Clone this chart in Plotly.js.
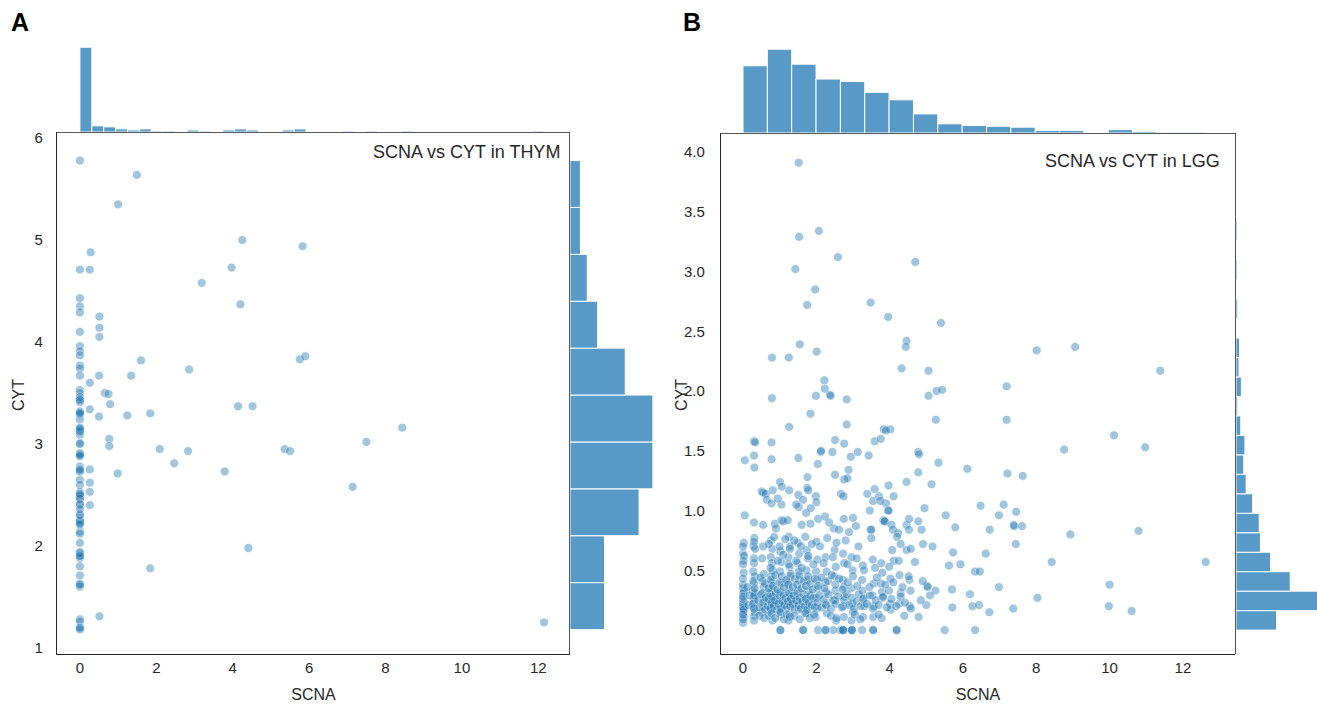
<!DOCTYPE html>
<html><head><meta charset="utf-8">
<script src="https://cdn.plot.ly/plotly-3.0.1.min.js"></script>
<style>html,body{margin:0;padding:0;background:#fff}#chart{width:1317px;height:706px}</style>
</head><body><div id="chart"></div>
<script>
// ---- Panel A: THYM  [SCNA, CYT] ----
const thymPoints = [
 [0,5.78],[0,4.71],[0,4.43],[0,4.35],[0,4.29],[0,4.10],[0,3.96],[0,3.91],[0,3.87],[0,3.77],[0,3.74],[0,3.67],
 [0,3.53],[0,3.50],[0,3.44],[0,3.41],[0,3.32],[0,3.29],[0,3.24],[0,3.15],[0,3.13],[0,3.09],[0,3.01],[0,2.91],
 [0,2.89],[0,2.78],[0,2.74],[0,2.65],[0,2.60],[0,2.53],[0,2.50],[0,2.47],[0,2.40],[0,2.31],[0,2.24],[0,2.22],
 [0,2.14],[0,2.03],[0,1.94],[0,1.91],[0,1.88],[0,1.80],[0,1.71],[0,1.63],[0,1.60],[0,1.28],[0,1.26],[0,1.19],[0,1.18],
 [0,1.20],[0,1.62],[0,1.93],[0,1.90],[0,2.49],[0,2.46],[0,2.51],[0,2.23],[0,2.25],[0,2.21],[0,2.12],[0,2.30],
 [0,2.41],[0,2.36],[0,2.90],[0,2.88],[0,2.73],[0,2.75],[0,3.00],[0,3.46],[0,3.43],[0,3.31],[0,3.30],[0,3.14],[0,3.12],[0,3.16],
 [1.49,5.64],[1.0,5.35],[4.25,5.0],[5.83,4.94],[0.28,4.88],[0.26,4.71],[3.97,4.73],[3.19,4.58],[4.2,4.37],
 [0.51,4.25],[0.51,4.14],[0.51,4.05],[0.5,3.67],[0.26,3.60],[1.34,3.67],[1.6,3.82],[2.86,3.73],[5.76,3.83],[5.9,3.86],
 [0.65,3.50],[0.75,3.49],[0.26,3.34],[0.5,3.27],[0.79,3.39],[1.24,3.28],[1.84,3.30],[4.14,3.37],[4.52,3.37],
 [0.77,3.05],[0.77,2.98],[2.09,2.95],[2.83,2.93],[2.47,2.81],[5.36,2.95],[5.5,2.93],[0.26,2.75],[0.99,2.71],[3.79,2.73],
 [0.26,2.62],[0.26,2.53],[0.26,2.40],[4.41,1.98],[1.84,1.78],[7.5,3.02],[8.44,3.16],[7.14,2.58],[12.15,1.25],[0.51,1.31]
];
// ---- Panel B: LGG  [SCNA, CYT] ----
const lggSparse = [
 [1.52,3.91],[2.07,3.34],[1.53,3.29],[2.59,3.12],[4.70,3.08],[1.43,3.02],[1.97,2.85],[1.75,2.72],[3.48,2.74],[3.96,2.62],
 [5.40,2.57],[4.46,2.42],[4.44,2.37],[1.55,2.39],[2.01,2.33],[0.79,2.28],[1.25,2.28],[4.33,2.19],[5.06,2.17],[2.22,2.09],
 [2.23,2.02],[5.28,2.00],[5.43,2.01],[2.37,1.97],[2.39,1.96],[1.99,1.96],[0.79,1.94],[2.83,1.93],[5.06,1.96],
 [8.01,2.34],[9.06,2.37],[11.38,2.17],[7.19,2.04],
 [7.19,1.76],[10.12,1.63],[10.97,1.53],[8.76,1.51],[7.21,1.31],[7.63,1.29],[7.11,1.05],[7.45,0.99],[7.38,0.88],[7.40,0.87],
 [7.61,0.87],[7.44,0.72],[8.93,0.80],[10.79,0.83],[8.42,0.57],[12.62,0.57],[10.0,0.38],[8.03,0.27],[7.37,0.18],[9.98,0.20],[10.6,0.16]
];
const lggMid = [
 [1.84,1.81],[5.26,1.76],[1.26,1.70],[2.83,1.72],[3.84,1.68],[4.02,1.68],[3.90,1.67],[0.30,1.58],[0.33,1.57],[0.78,1.57],
 [2.51,1.59],[2.76,1.56],[3.59,1.58],[3.76,1.60],[0.05,1.42],[0.30,1.46],[0.31,1.36],[0.78,1.43],[1.51,1.44],[2.04,1.39],
 [2.12,1.49],[2.13,1.50],[2.44,1.49],[2.94,1.45],[3.13,1.49],[3.43,1.46],[4.78,1.49],[4.80,1.47],[5.33,1.40],[2.88,1.34],
 [2.51,1.30],[2.76,1.26],[2.85,1.27],[1.76,1.28],[4.78,1.32],[3.97,1.21],[4.46,1.24],[5.14,1.22],[6.12,1.35],[1.01,1.24],
 [1.06,1.20],[0.51,1.16],[0.55,1.15],[0.62,1.14],[0.81,1.17],[0.65,1.09],[0.78,1.06],[1.26,1.17],[1.51,1.13],[1.64,1.09],
 [1.75,1.19],[1.78,1.17],[1.99,1.12],[2.0,1.07],[1.05,1.05],[1.52,1.03],[1.72,0.98],[0.05,0.96],[0.55,0.88],[0.87,0.89],
 [1.05,0.92],[1.10,0.91],[1.84,0.89],[2.05,0.93],[2.24,0.95],[2.75,0.93],[3.08,0.87],[2.48,0.85],[2.62,0.84],[2.89,0.82],
 [2.67,1.14],[2.74,1.12],[3.48,0.84],[3.50,0.84],[3.39,1.14],[3.55,1.08],[3.46,1.00],[3.59,1.18],[3.71,1.12],[3.90,1.06],
 [3.96,1.00],[3.97,1.00],[3.83,0.92],[3.87,0.91],[3.86,0.91],[4.05,0.88],[4.09,0.84],[4.23,0.81],[4.11,1.12],[4.46,0.88],
 [4.53,0.93],[4.53,0.84],[4.78,0.91],[4.87,0.84],[4.20,0.78],[4.46,0.67],[4.58,0.68],[4.69,0.57],[4.07,0.67],[4.11,0.58],
 [4.91,0.72],[5.17,0.70],[5.53,0.96],[5.79,0.86],[6.48,1.04],[6.73,0.84],[6.98,0.96],[5.73,0.65],[5.62,0.54],[5.93,0.55],
 [6.62,0.64],[6.33,0.49],[6.46,0.49],[6.98,0.36],[6.19,0.30],[5.70,0.34],[5.25,0.33],[5.02,0.37],[5.04,0.36],[6.26,0.20],
 [6.44,0.21],[6.72,0.15],[5.71,0.19],[5.0,0.21],[4.79,0.11],[5.50,0.0],[6.33,0.0],[4.19,0.0],[3.55,0.0],[3.25,0.0],
 [2.96,0.0],[2.97,0.0],[2.73,0.0],[2.74,0.0],[2.66,0.0],[2.46,0.0],[2.25,0.0],[2.05,0.0],[1.64,0.0],[1.02,0.0]
];
const lggDense = [
 [0.02,0.73],[0.0,0.64],[0.03,0.62],[0.01,0.58],[0.02,0.48],[0.0,0.35],[0.03,0.33],[0.01,0.31],[0.02,0.24],[0.0,0.20],[0.03,0.19],[0.01,0.15],[0.02,0.11],[0.0,0.06],
 [0.31,0.77],[0.29,0.70],[0.33,0.68],[0.30,0.56],[0.28,0.49],[0.32,0.45],[0.30,0.39],[0.27,0.33],[0.33,0.31],[0.29,0.27],[0.31,0.24],[0.28,0.19],[0.32,0.15],[0.30,0.12],
 [0.55,0.70],[0.52,0.60],[0.57,0.47],[0.54,0.41],[0.56,0.36],[0.53,0.31],[0.58,0.26],[0.55,0.20],[0.52,0.15],
 [0.77,0.75],[0.80,0.68],[0.76,0.61],[0.79,0.56],[0.81,0.50],[0.77,0.45],[0.80,0.40],[0.78,0.35],[0.76,0.29],[0.82,0.25],[0.79,0.21],[0.77,0.17],[0.80,0.08],
 [1.02,0.66],[1.05,0.57],[1.01,0.49],[1.06,0.39],[1.03,0.32],[1.00,0.25],[1.04,0.20],[1.02,0.13],
 [1.25,0.78],[1.28,0.70],[1.24,0.61],[1.27,0.53],[1.29,0.45],[1.23,0.40],[1.26,0.33],[1.28,0.28],[1.25,0.22],[1.27,0.14],[1.24,0.08],
 [1.50,0.73],[1.53,0.64],[1.49,0.56],[1.52,0.49],[1.54,0.42],[1.50,0.33],[1.48,0.24],[1.52,0.17],
 [1.74,0.67],[1.77,0.60],[1.73,0.50],[1.76,0.42],[1.78,0.33],[1.74,0.27],[1.76,0.20],[1.73,0.14],
 [2.00,0.74],[2.03,0.59],[1.99,0.49],[2.02,0.42],[2.04,0.35],[2.00,0.27],[2.02,0.18],[1.98,0.11],
 [2.25,0.61],[2.28,0.49],[2.24,0.40],[2.27,0.32],[2.25,0.22],[2.29,0.14],
 [2.50,0.67],[2.53,0.53],[2.49,0.45],[2.52,0.33],[2.50,0.25],[2.54,0.08],
 [2.73,0.64],[2.76,0.56],[2.72,0.42],[2.75,0.36],[2.77,0.28],[2.73,0.20],[2.75,0.11],
 [2.96,0.61],[2.99,0.50],[2.95,0.35],[2.98,0.22],[3.00,0.15],[2.96,0.08],
 [3.27,0.54],[3.30,0.50],[3.26,0.33],[3.29,0.27],[3.31,0.20],[3.27,0.11],
 [3.54,0.59],[3.57,0.39],[3.53,0.29],[3.56,0.20],[3.55,0.11],
 [3.77,0.56],[3.80,0.48],[3.76,0.39],[3.79,0.32],[3.81,0.27],[3.78,0.10],
 [3.99,0.53],[4.02,0.43],[3.98,0.33],[4.01,0.22],[4.03,0.17],
 [4.27,0.46],[4.30,0.31],[4.26,0.22],[4.54,0.42],[4.57,0.33],[4.55,0.20]
];
// overlapping points hidden inside the dark core of the LGG cloud
const lggCore = [
 [0.0,0.18],[0.0,0.22],[0.0,0.26],[0.0,0.28],[0.02,0.17],[0.15,0.21],[0.18,0.29],[0.28,0.22],[0.30,0.18],[0.31,0.29],[0.42,0.25],[0.45,0.19],[0.50,0.30],[0.55,0.23],[0.60,0.17],[0.62,0.27],
 [0.68,0.20],[0.70,0.26],[0.72,0.31],[0.75,0.18],[0.78,0.23],[0.80,0.28],[0.84,0.20],[0.88,0.25],[0.90,0.31],[0.93,0.17],[0.97,0.22],[1.00,0.29],[1.04,0.18],[1.08,0.24],[1.10,0.30],[1.13,0.21],[1.17,0.27],[1.20,0.19],[1.23,0.24],[1.26,0.31],[1.29,0.20],[1.31,0.26],
 [1.35,0.22],[1.38,0.29],[1.41,0.18],[1.45,0.25],[1.48,0.31],[1.52,0.21],[1.55,0.27],[1.58,0.18],[1.62,0.24],[1.65,0.30],[1.69,0.20],[1.72,0.26],[1.76,0.17],[1.80,0.23],[1.84,0.29],[1.88,0.21],[1.92,0.27],[1.96,0.19],
 [2.03,0.23],[2.08,0.29],[2.14,0.19],[2.20,0.26],[2.27,0.21],[2.33,0.30],[2.40,0.18],[2.46,0.25],[2.53,0.22],[2.60,0.28],
 [2.70,0.19],[2.76,0.25],[2.83,0.30],[2.90,0.21],[2.97,0.27],[3.03,0.18],[3.10,0.24],[3.16,0.30],[3.22,0.20],[3.28,0.26],
 [3.38,0.22],[3.46,0.29],[3.55,0.18],[3.62,0.25],[3.70,0.21],[3.82,0.28],[3.92,0.19],
 [4.05,0.26],[4.18,0.20],[4.30,0.28],[4.42,0.23],[4.58,0.18],[4.85,0.25],[5.10,0.29],
 [0.0,0.38],[0.0,0.43],[0.12,0.36],[0.28,0.41],[0.32,0.35],[0.48,0.44],[0.60,0.39],
 [0.70,0.35],[0.76,0.42],[0.82,0.37],[0.88,0.46],[0.94,0.34],[1.00,0.40],[1.06,0.45],[1.12,0.36],[1.18,0.42],[1.24,0.38],[1.30,0.47],
 [1.36,0.36],[1.42,0.43],[1.48,0.38],[1.54,0.46],[1.60,0.35],[1.66,0.41],[1.72,0.37],[1.78,0.45],[1.84,0.39],[1.90,0.34],[1.96,0.43],
 [2.05,0.37],[2.14,0.44],[2.22,0.35],[2.32,0.41],[2.42,0.46],[2.52,0.38],[2.62,0.43],
 [2.72,0.34],[2.86,0.40],[3.00,0.45],[3.12,0.37],[3.25,0.42],[3.45,0.36],[3.65,0.44],[3.88,0.38],
 [4.10,0.40],[4.35,0.36],[4.52,0.45],[4.90,0.41],
 [0.0,0.09],[0.0,0.13],[0.30,0.08],[0.45,0.12],[0.58,0.10],
 [0.70,0.12],[0.78,0.14],[0.88,0.10],[1.02,0.0],[1.02,0.15],[1.12,0.09],[1.20,0.13],[1.28,0.11],
 [1.40,0.12],[1.55,0.09],[1.64,0.0],[1.70,0.14],[1.82,0.10],[1.94,0.13],
 [2.25,0.0],[2.40,0.12],[2.55,0.10],[2.73,0.0],[2.97,0.0],[3.05,0.13],[3.20,0.09],[3.55,0.0],[3.70,0.13],[4.19,0.0],[4.40,0.12],
 [0.0,0.55],[0.30,0.60],[0.75,0.52],[0.95,0.58],[1.10,0.63],[1.25,0.55],[1.45,0.58],[1.60,0.52],[1.78,0.62],[1.92,0.55],
 [2.20,0.56],[2.45,0.61],[2.85,0.55],[3.10,0.60],[3.60,0.52],[4.25,0.58],
 [0.0,0.70],[0.30,0.74],[0.70,0.72],[0.85,0.78],[1.00,0.70],[1.15,0.76],[1.28,0.68],[1.40,0.75],[1.58,0.70],[1.70,0.78],[1.88,0.72],
 [2.10,0.70],[2.30,0.77],[2.55,0.73],[2.80,0.75],[3.15,0.70],[3.50,0.77],[4.30,0.72],
 [0.30,0.90],[0.90,0.85],[1.22,0.92],[1.60,0.88],[2.35,0.90],[3.00,0.94],
 [0.95,1.10],[1.45,1.05],[1.85,1.02],[3.75,1.08],[4.95,1.02]
];
const xTicks = [0,2,4,6,8,10,12];
const thymYTicks = [1,2,3,4,5,6];
const lggYTicks = [0,0.5,1,1.5,2,2.5,3,3.5,4];
const thymBins = {x:39, y:10};
const lggBins = {x:19, y:24};

const thymSCNA = thymPoints.map(p=>p[0]), thymCYT = thymPoints.map(p=>p[1]);
const lggAll = lggSparse.concat(lggMid, lggDense, lggCore);
const lggSCNA = lggAll.map(p=>p[0]), lggCYT = lggAll.map(p=>p[1]);

const W=1317, H=706;
const dx=(a,b)=>[a/W,Math.min(1,b/W)];
const dy=(t,b)=>[1-b/H,1-t/H];
function binSpec(arr,n){const lo=Math.min(...arr),hi=Math.max(...arr);const size=(hi-lo)/n*(1+1e-9);return {start:lo,end:lo+size*n,size:size};}
function maxCount(arr,spec){const c={};let m=0;arr.forEach(v=>{const k=Math.floor((v-spec.start)/spec.size);c[k]=(c[k]||0)+1;if(c[k]>m)m=c[k];});return m;}

const ink='#262626', spine='#555', barCol='#5799c7';
const fam='Liberation Sans, Arial, sans-serif';
const font={family:fam,size:15,color:ink};
const scatMarker={size:9,color:'#1f77b4',opacity:0.42,line:{color:'#ffffff',width:0.8}};
const histMarker={color:barCol,line:{color:'#ffffff',width:1}};

const tAx=binSpec(thymSCNA,thymBins.x), tAy=binSpec(thymCYT,thymBins.y);
const tBx=binSpec(lggSCNA,lggBins.x), tBy=binSpec(lggCYT,lggBins.y);

const traces=[
 {type:'scatter',mode:'markers',x:thymSCNA,y:thymCYT,xaxis:'x',yaxis:'y',marker:scatMarker,hoverinfo:'x+y'},
 {type:'histogram',x:thymSCNA,xbins:tAx,xaxis:'x2',yaxis:'y2',marker:histMarker},
 {type:'histogram',y:thymCYT,ybins:tAy,xaxis:'x3',yaxis:'y3',marker:histMarker,orientation:'h'},
 {type:'scatter',mode:'markers',x:lggSCNA,y:lggCYT,xaxis:'x4',yaxis:'y4',marker:scatMarker,hoverinfo:'x+y'},
 {type:'histogram',x:lggSCNA,xbins:tBx,xaxis:'x5',yaxis:'y5',marker:histMarker},
 {type:'histogram',y:lggCYT,ybins:tBy,xaxis:'x6',yaxis:'y6',marker:histMarker,orientation:'h'}
];

const base={showgrid:false,zeroline:false,showline:true,linecolor:ink,linewidth:1.25,ticks:'outside',tickcolor:'rgba(0,0,0,0)',tickfont:font,fixedrange:true};
const hid={visible:false,showgrid:false,zeroline:false,fixedrange:true};
const marg={showgrid:false,zeroline:false,showline:true,linecolor:spine,linewidth:1.25,showticklabels:false,ticks:'',fixedrange:true};
const titleFont={family:fam,size:16,color:ink};

const layout={
 width:W,height:H,margin:{l:0,r:0,t:0,b:0},paper_bgcolor:'#fff',plot_bgcolor:'rgba(0,0,0,0)',
 showlegend:false,bargap:0,font:font,
 xaxis:Object.assign({},base,{domain:dx(57,570),range:[-0.6,12.83],anchor:'y',tickvals:xTicks,ticklen:0,
   title:{text:'SCNA',font:titleFont,standoff:13}}),
 yaxis:Object.assign({},base,{domain:dy(132,654),range:[0.94,6.06],anchor:'x',tickvals:thymYTicks,ticklen:10}),
 xaxis2:Object.assign({},marg,{domain:dx(57,570),matches:'x',anchor:'y2'}),
 yaxis2:Object.assign({},hid,{domain:dy(43,132),range:[0,maxCount(thymSCNA,tAx)*1.05],anchor:'x2'}),
 xaxis3:Object.assign({},hid,{domain:dx(570,657),range:[0,maxCount(thymCYT,tAy)*1.05],anchor:'y3'}),
 yaxis3:Object.assign({},marg,{domain:dy(132,654),matches:'y',anchor:'x3'}),
 xaxis4:Object.assign({},base,{domain:dx(721,1235),range:[-0.6,13.42],anchor:'y4',tickvals:xTicks,ticklen:0,
   title:{text:'SCNA',font:titleFont,standoff:13}}),
 yaxis4:Object.assign({},base,{domain:dy(133,654),range:[-0.2,4.159],anchor:'x4',tickvals:lggYTicks,tickformat:'.1f',ticklen:12}),
 xaxis5:Object.assign({},marg,{domain:dx(721,1235),matches:'x4',anchor:'y5'}),
 yaxis5:Object.assign({},hid,{domain:dy(45,133),range:[0,maxCount(lggSCNA,tBx)*1.05],anchor:'x5'}),
 xaxis6:Object.assign({},hid,{domain:dx(1236,1317),range:[0,maxCount(lggCYT,tBy)*81/84],anchor:'y6'}),
 yaxis6:Object.assign({},marg,{domain:dy(133,654),matches:'y4',anchor:'x6'}),
 annotations:[
  {text:'CYT',xref:'paper',yref:'paper',x:18/W,y:1-395/H,xanchor:'center',yanchor:'middle',textangle:-90,showarrow:false,font:titleFont},
  {text:'CYT',xref:'paper',yref:'paper',x:681/W,y:1-395/H,xanchor:'center',yanchor:'middle',textangle:-90,showarrow:false,font:titleFont},
  {text:'SCNA vs CYT in THYM',xref:'paper',yref:'paper',x:562/W,y:1-152/H,xanchor:'right',yanchor:'middle',showarrow:false,font:{family:fam,size:18,color:ink}},
  {text:'SCNA vs CYT in LGG',xref:'paper',yref:'paper',x:1222/W,y:1-161/H,xanchor:'right',yanchor:'middle',showarrow:false,font:{family:fam,size:18,color:ink}},
  {text:'<b>A</b>',xref:'paper',yref:'paper',x:9/W,y:1-22/H,xanchor:'left',yanchor:'middle',showarrow:false,font:{family:fam,size:25,color:'#000'}},
  {text:'<b>B</b>',xref:'paper',yref:'paper',x:681/W,y:1-22/H,xanchor:'left',yanchor:'middle',showarrow:false,font:{family:fam,size:25,color:'#000'}}
 ]
};
Plotly.newPlot('chart',traces,layout,{displayModeBar:false,staticPlot:true});
</script></body></html>
